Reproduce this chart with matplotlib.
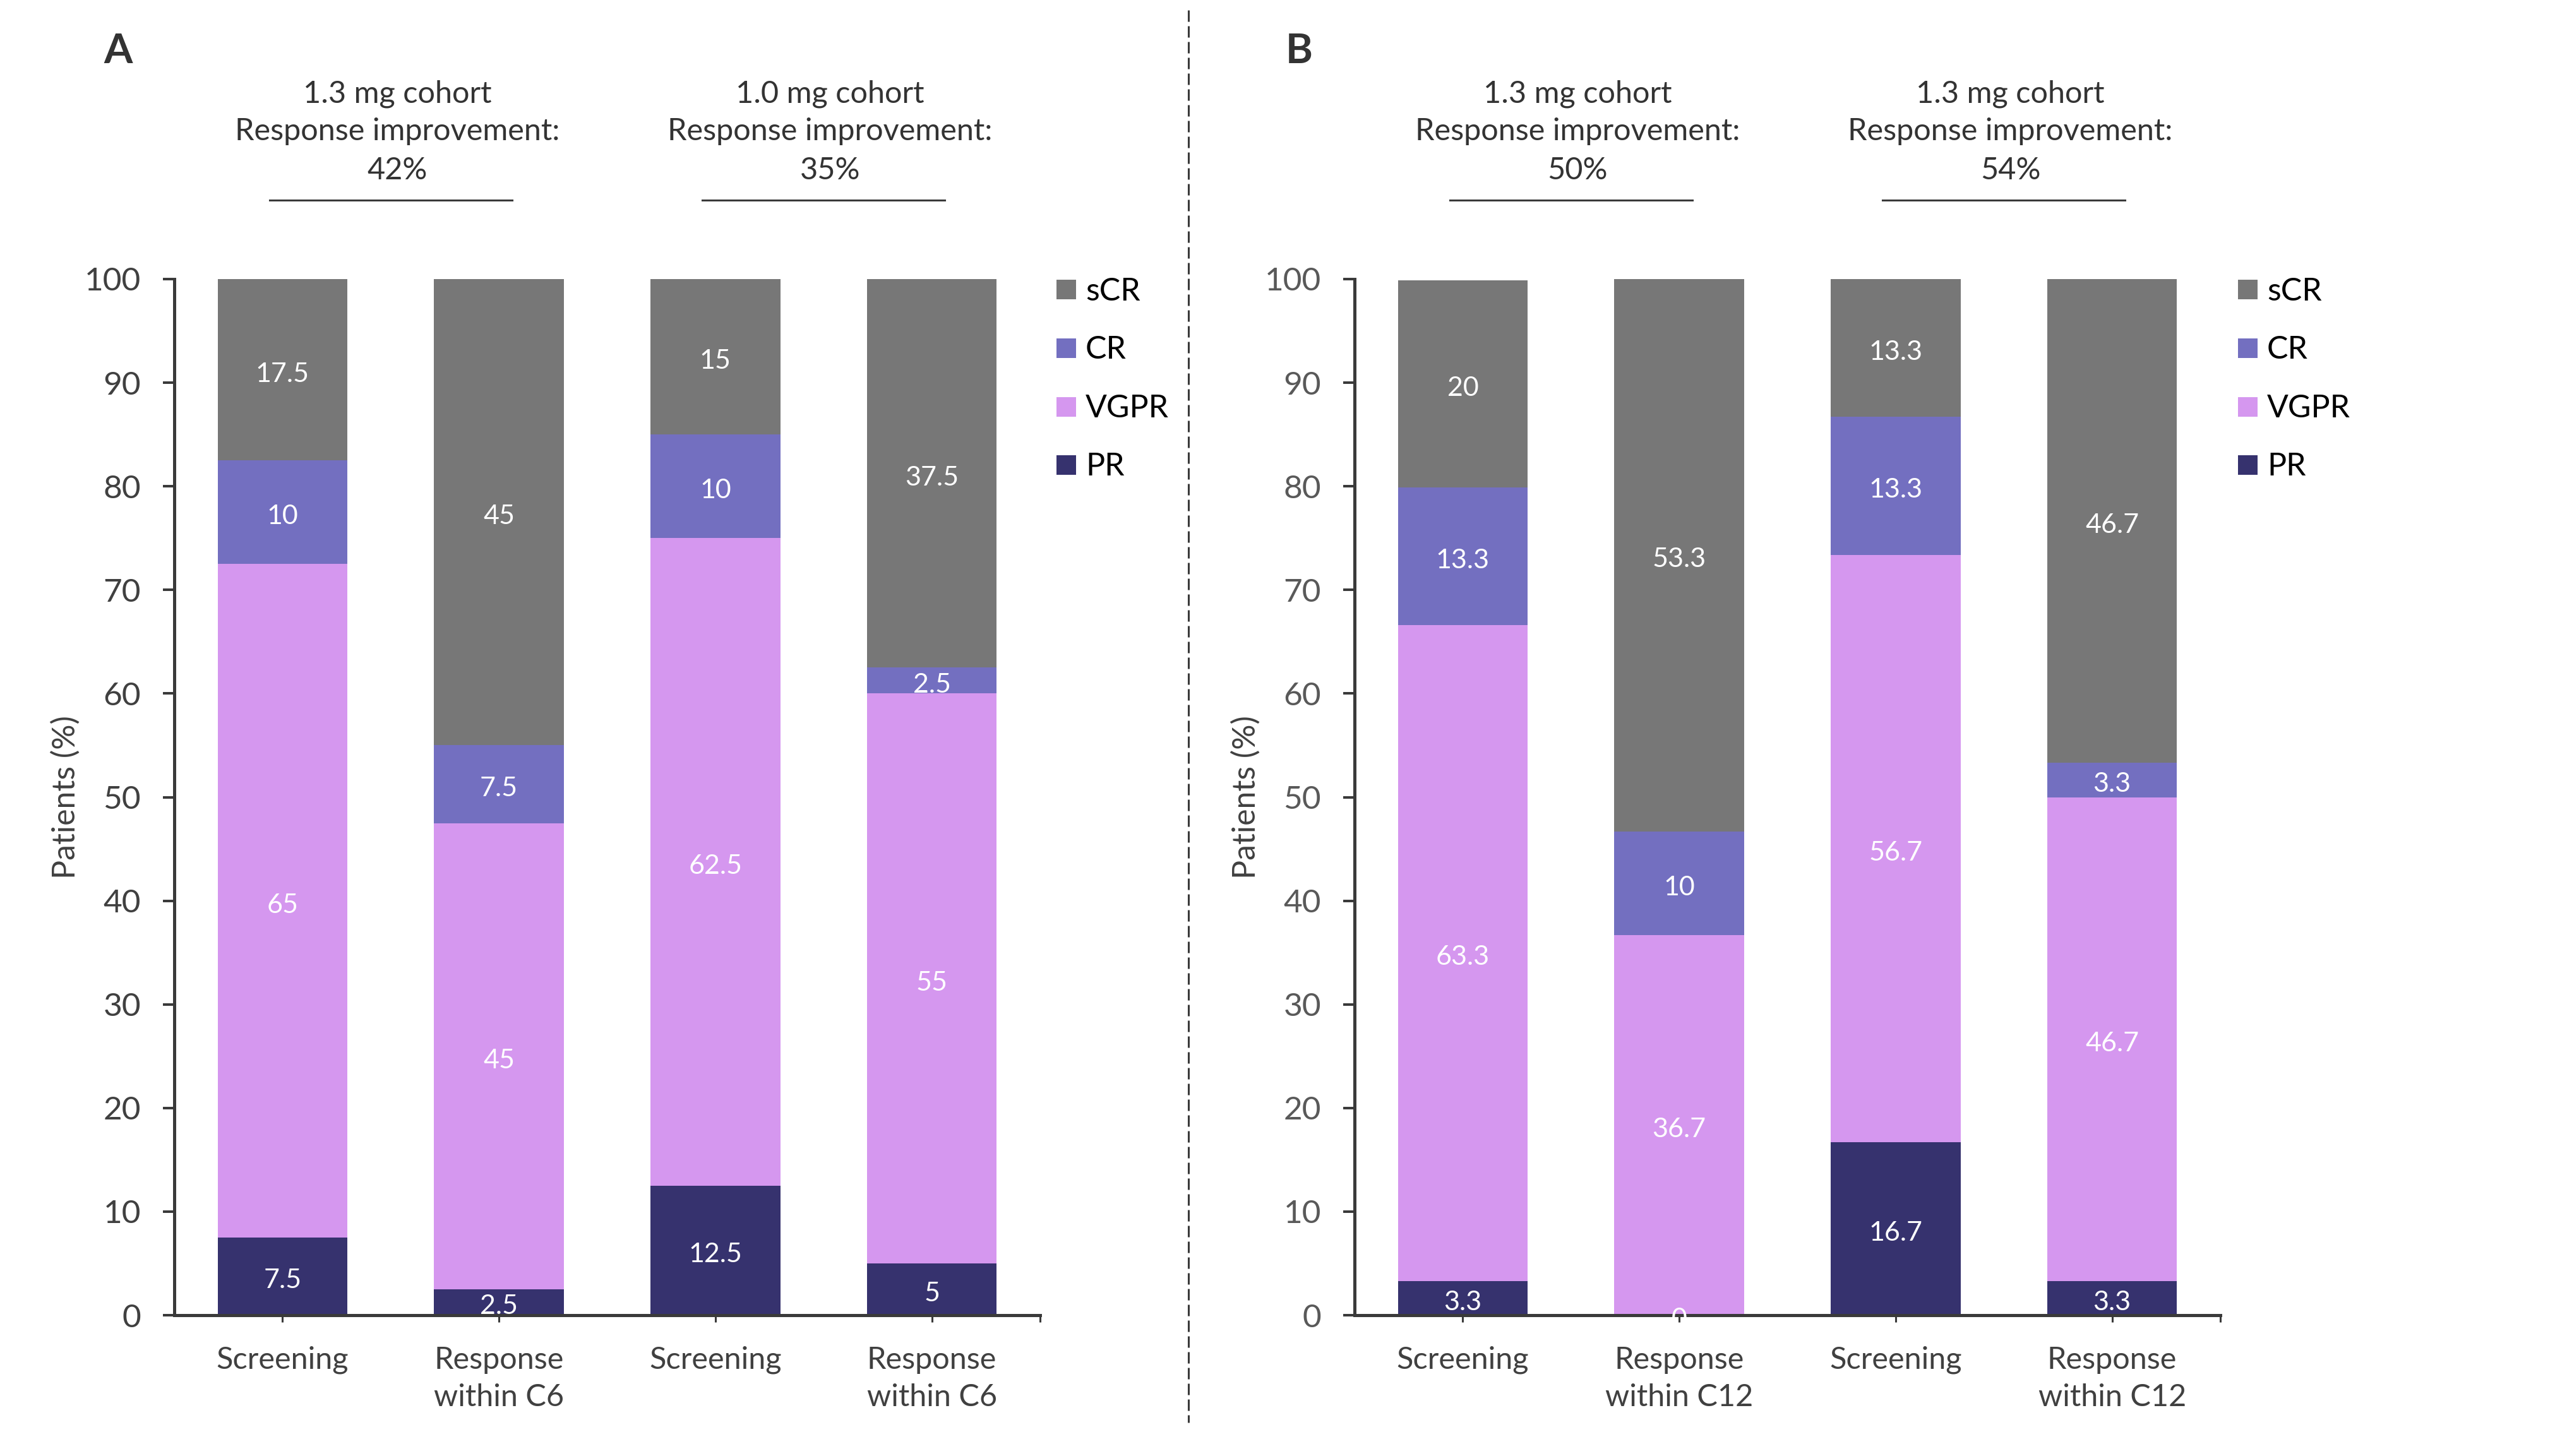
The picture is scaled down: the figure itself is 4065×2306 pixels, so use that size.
import matplotlib
matplotlib.use("Agg")
import matplotlib.pyplot as plt
from matplotlib.patches import Rectangle
from matplotlib.lines import Line2D
import matplotlib.transforms as mtransforms
import numpy as np

plt.rcParams['font.family'] = ['Lato', 'DejaVu Sans']
plt.rcParams['lines.scale_dashes'] = False

# ---------------- data ----------------
series_names = ["PR", "VGPR", "CR", "sCR"]
series_colors = ["#36326E", "#D597EF", "#736FC0", "#777777"]

cats_A = ["Screening", "Response\nwithin C6", "Screening", "Response\nwithin C6"]
PR_A = [7.5, 2.5, 12.5, 5]
VGPR_A = [65, 45, 62.5, 55]
CR_A = [10, 7.5, 10, 2.5]
sCR_A = [17.5, 45, 15, 37.5]

cats_B = ["Screening", "Response\nwithin C12", "Screening", "Response\nwithin C12"]
PR_B = [3.3, 0, 16.7, 3.3]
VGPR_B = [63.3, 36.7, 56.7, 46.7]
CR_B = [13.3, 10, 13.3, 3.3]
sCR_B = [20, 53.3, 13.3, 46.7]

cohorts_A = ["1.3 mg cohort", "1.0 mg cohort"]
improve_A = ["42%", "35%"]
cohorts_B = ["1.3 mg cohort", "1.3 mg cohort"]
improve_B = ["50%", "54%"]

yticks = [0, 10, 20, 30, 40, 50, 60, 70, 80, 90, 100]

# ---------------- figure ----------------
W, H = 4065, 2306
fig = plt.figure(figsize=(W / 100, H / 100), dpi=100)


def fx(px):
    return px / W


def fy(py):
    return 1 - py / H


ax_top_px, ax_bot_px = 442, 2083
axA = fig.add_axes([fx(276), fy(ax_bot_px), fx(1647) - fx(276), fy(ax_top_px) - fy(ax_bot_px)])
axB = fig.add_axes([fx(2145), fy(ax_bot_px), fx(3516) - fx(2145), fy(ax_top_px) - fy(ax_bot_px)])

spine_c = "#3A3A3A"


def draw_panel(ax, cats, data, cohorts, improves, letter, letter_x, legend_x, tick_c):
    x = np.arange(len(cats))
    bottom = np.zeros(len(cats))
    for name, vals, col in zip(series_names, data, series_colors):
        vals = np.array(vals, dtype=float)
        ax.bar(x, vals, bottom=bottom, width=0.6, color=col, edgecolor='none', zorder=2)
        for xi, b, v in zip(x, bottom, vals):
            ax.annotate(f"{v:g}", (xi, b + v / 2), xytext=(0, -5), textcoords='offset points',
                        ha='center', va='center', color='white',
                        fontsize=31, zorder=5, annotation_clip=False)
        bottom = bottom + vals

    ax.set_xlim(-0.5, 3.5)
    ax.set_ylim(0, 100)
    ax.set_yticks(yticks)
    ax.set_xticks(x)
    ax.set_xticklabels(cats, linespacing=1.42)
    ax.set_xticks([3.5], minor=True)
    for s in ['top', 'right']:
        ax.spines[s].set_visible(False)
    for s in ['left', 'bottom']:
        ax.spines[s].set_color(spine_c)
        ax.spines[s].set_linewidth(3.6)
    ax.tick_params(axis='y', direction='out', length=13, width=2.9, color=spine_c,
                   labelsize=37, labelcolor=tick_c, pad=25)
    ax.tick_params(axis='x', which='both', direction='out', length=8, width=2.2, color=spine_c,
                   labelsize=35, labelcolor="#404040", pad=27)
    ax.tick_params(axis='x', which='minor', length=8)

    # y label
    ax.text(-172 / 1371, 0.5, "Patients (%)", transform=ax.transAxes, rotation=90,
            ha='center', va='center', fontsize=36, color="#404040")

    # cohort annotations
    tr = mtransforms.blended_transform_factory(ax.transData, fig.transFigure)
    for i, (c, imp) in enumerate(zip(cohorts, improves)):
        cx = 2 * i + 0.5
        tx = cx + 0.03
        ax.text(tx, fy(149), c, transform=tr, ha='center', va='center', fontsize=35, color="#333333")
        ax.text(tx, fy(208), "Response improvement:", transform=tr, ha='center', va='center',
                fontsize=35, color="#333333")
        ax.text(tx, fy(270), imp, transform=tr, ha='center', va='center', fontsize=35, color="#333333")
        ax.add_line(Line2D([cx - 0.56, cx + 0.56], [fy(317), fy(317)], transform=tr,
                           color="#3A3A3A", lw=2.2, clip_on=False))

    # panel letter
    fig.text(fx(letter_x), fy(82), letter, ha='center', va='center', fontsize=47,
             fontweight='bold', color="#333333")

    # legend (top entry = sCR)
    ys = [459, 551, 644, 736]
    for k, idx in enumerate([3, 2, 1, 0]):
        fig.add_artist(Rectangle((fx(legend_x), fy(ys[k] + 15.5)), fx(31), 31 / H,
                                 transform=fig.transFigure, facecolor=series_colors[idx],
                                 edgecolor='none'))
        fig.text(fx(legend_x + 46), fy(ys[k] + 17), series_names[idx], ha='left', va='baseline',
                 fontsize=36, color="#000000")


draw_panel(axA, cats_A, [PR_A, VGPR_A, CR_A, sCR_A], cohorts_A, improve_A, "A", 187, 1673, "#404040")
draw_panel(axB, cats_B, [PR_B, VGPR_B, CR_B, sCR_B], cohorts_B, improve_B, "B", 2057, 3544, "#595959")

# dashed divider
fig.add_artist(Line2D([fx(1882), fx(1882)], [fy(16), fy(2253)], transform=fig.transFigure,
                      color="#3A3A3A", lw=2.2, linestyle=(0, (13, 5))))

fig.savefig("out.png", dpi=100, facecolor='white')
